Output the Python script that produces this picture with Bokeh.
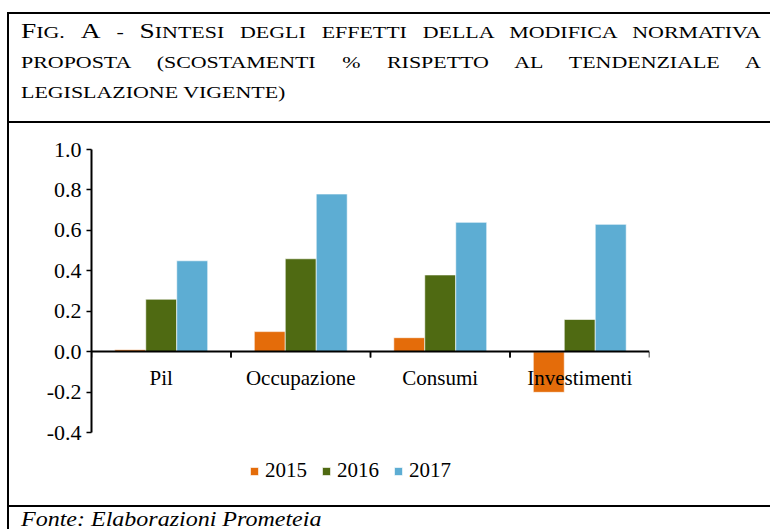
from bokeh.plotting import figure
from bokeh.models import (ColumnDataSource, FactorRange, Range1d, FixedTicker,
                          PrintfTickFormatter, Legend, LegendItem, Div)
from bokeh.transform import dodge
from bokeh.layouts import column, row
from bokeh.embed import file_html
from bokeh.resources import INLINE

# ---------------- data ----------------
categories = ["Pil", "Occupazione", "Consumi", "Investimenti"]
years = ["2015", "2016", "2017"]
v2015 = [0.01, 0.10, 0.07, -0.20]
v2016 = [0.26, 0.46, 0.38, 0.16]
v2017 = [0.45, 0.78, 0.64, 0.63]
y_ticks = [-0.4, -0.2, 0.0, 0.2, 0.4, 0.6, 0.8, 1.0]
title_line1 = [("F", True), ("IG. ", False), ("A", True), (" - ", False), ("S", True),
               ("INTESI DEGLI EFFETTI DELLA MODIFICA NORMATIVA", False)]
title_line2 = "PROPOSTA (SCOSTAMENTI % RISPETTO AL TENDENZIALE A"
title_line3 = "LEGISLAZIONE VIGENTE)"
source_note = "Fonte: Elaborazioni Prometeia"

# ---------------- styles ----------------
colors = ["#E46C0A", "#4F6A12", "#5DADD3"]
FONT = "Liberation Serif"
CSS_FONT = "'Liberation Serif','Times New Roman',serif"
W = 770
BAR_W = 0.222

# ---------------- title block (small caps, justified) ----------------
SC = 1.37
inner_w = 740 / SC


def span(txt, big):
    size = 20 if big else 16
    return f'<span style="font-size:{size}px">{txt}</span>'


def line_div(html, top, justify):
    align = "text-align:justify;text-align-last:justify;" if justify else "text-align:left;"
    return (f'<div style="position:absolute;left:12px;top:{top}px;width:{inner_w:.1f}px;'
            f'font-size:16px;line-height:30.3px;{align}transform:scaleX({SC});'
            f'transform-origin:0 0;">{html}</div>')


l1 = "".join(span(t, b) for t, b in title_line1)
title_html = (f'<div style="position:relative;width:{W}px;height:123px;">'
              f'<div style="position:absolute;left:7px;top:12px;box-sizing:border-box;'
              f'width:{W - 7}px;height:111px;'
              f'border-top:2px solid #000;border-left:2px solid #000;border-bottom:2px solid #000;'
              f'font-family:{CSS_FONT};color:#000;">'
              + line_div(l1, 2.1, True)
              + line_div(title_line2, 33.7, True)
              + line_div(title_line3, 63.9, False)
              + '</div></div>')
title_div = Div(text=title_html, width=W, height=123, margin=0)

# ---------------- chart ----------------
src = ColumnDataSource(dict(cat=categories, v2015=v2015, v2016=v2016, v2017=v2017))

PW = W - 9
p = figure(width=PW, height=382,
           x_range=FactorRange(factors=categories, range_padding=0),
           y_range=Range1d(-0.7, 1.0),
           output_backend="svg", toolbar_location=None,
           min_border_left=82, min_border_right=PW - 82 - 558, min_border_top=26,
           min_border_bottom=382 - 26 - 344,
           outline_line_color=None, background_fill_color="white", border_fill_color="white")
p.xgrid.visible = False
p.ygrid.visible = False

renderers = []
for i, (yr, col) in enumerate(zip(years, colors)):
    r = p.vbar(x=dodge("cat", (i - 1) * BAR_W, range=p.x_range), top="v" + yr, bottom=0,
               width=BAR_W, source=src, fill_color=col, line_color="white",
               line_alpha=0.6, line_width=1)
    renderers.append(r)

# category-boundary tick marks hanging below the zero line
TICK = 0.028
for off in (-0.5, 0.5):
    p.segment(x0=dodge("cat", off, range=p.x_range), y0=0,
              x1=dodge("cat", off, range=p.x_range), y1=-TICK,
              source=src, line_color="black", line_width=1.5)

ya = p.yaxis[0]
ya.bounds = (y_ticks[0], y_ticks[-1])
ya.ticker = FixedTicker(ticks=y_ticks)
ya.formatter = PrintfTickFormatter(format="%.1f")
ya.major_label_text_font = FONT
ya.major_label_text_font_size = "22px"
ya.major_label_text_color = "black"
ya.axis_line_width = 2
ya.axis_line_color = "black"
ya.major_tick_line_width = 1.5
ya.major_tick_out = 5
ya.major_tick_in = 0
ya.minor_tick_line_color = None
ya.major_label_standoff = 5

xa = p.xaxis[0]
xa.fixed_location = 0
xa.axis_line_color = "black"
xa.axis_line_width = 2
xa.major_tick_line_color = None
xa.major_tick_out = 0
xa.major_tick_in = 0
xa.major_label_standoff = 14
xa.major_label_text_font = FONT
xa.major_label_text_font_size = "21px"
xa.major_label_text_color = "black"

legend = Legend(items=[LegendItem(label=yr, renderers=[r]) for yr, r in zip(years, renderers)],
                orientation="horizontal", location=(158, 10),
                glyph_width=10, glyph_height=10, label_standoff=6, spacing=14,
                padding=0, margin=0, border_line_alpha=0, background_fill_alpha=0,
                label_text_font=FONT, label_text_font_size="21px", label_text_color="black",
                label_height=10)
p.add_layout(legend)

# left frame line of the chart block
left_line = Div(text='<div style="margin-left:7px;width:2px;height:382px;background:#000;"></div>',
                width=9, height=382, margin=0)

# ---------------- source note ----------------
SN = 1.2
note_html = (f'<div style="position:relative;width:{W}px;height:24px;">'
             f'<div style="position:absolute;left:7px;top:0;box-sizing:border-box;width:{W - 7}px;'
             f'height:24px;border-top:2px solid #000;border-left:2px solid #000;'
             f'font-family:{CSS_FONT};color:#000;">'
             f'<div style="position:absolute;left:12px;top:1.9px;font-size:20px;line-height:20px;'
             f'font-style:italic;white-space:nowrap;transform:scaleX({SN});transform-origin:0 0;">'
             f'{source_note}</div></div></div>')
note_div = Div(text=note_html, width=W, height=24, margin=0)

layout = column(title_div, row(left_line, p, spacing=0), note_div, spacing=0)

open("out.html", "w").write(file_html(layout, INLINE, title="Fig. A"))
